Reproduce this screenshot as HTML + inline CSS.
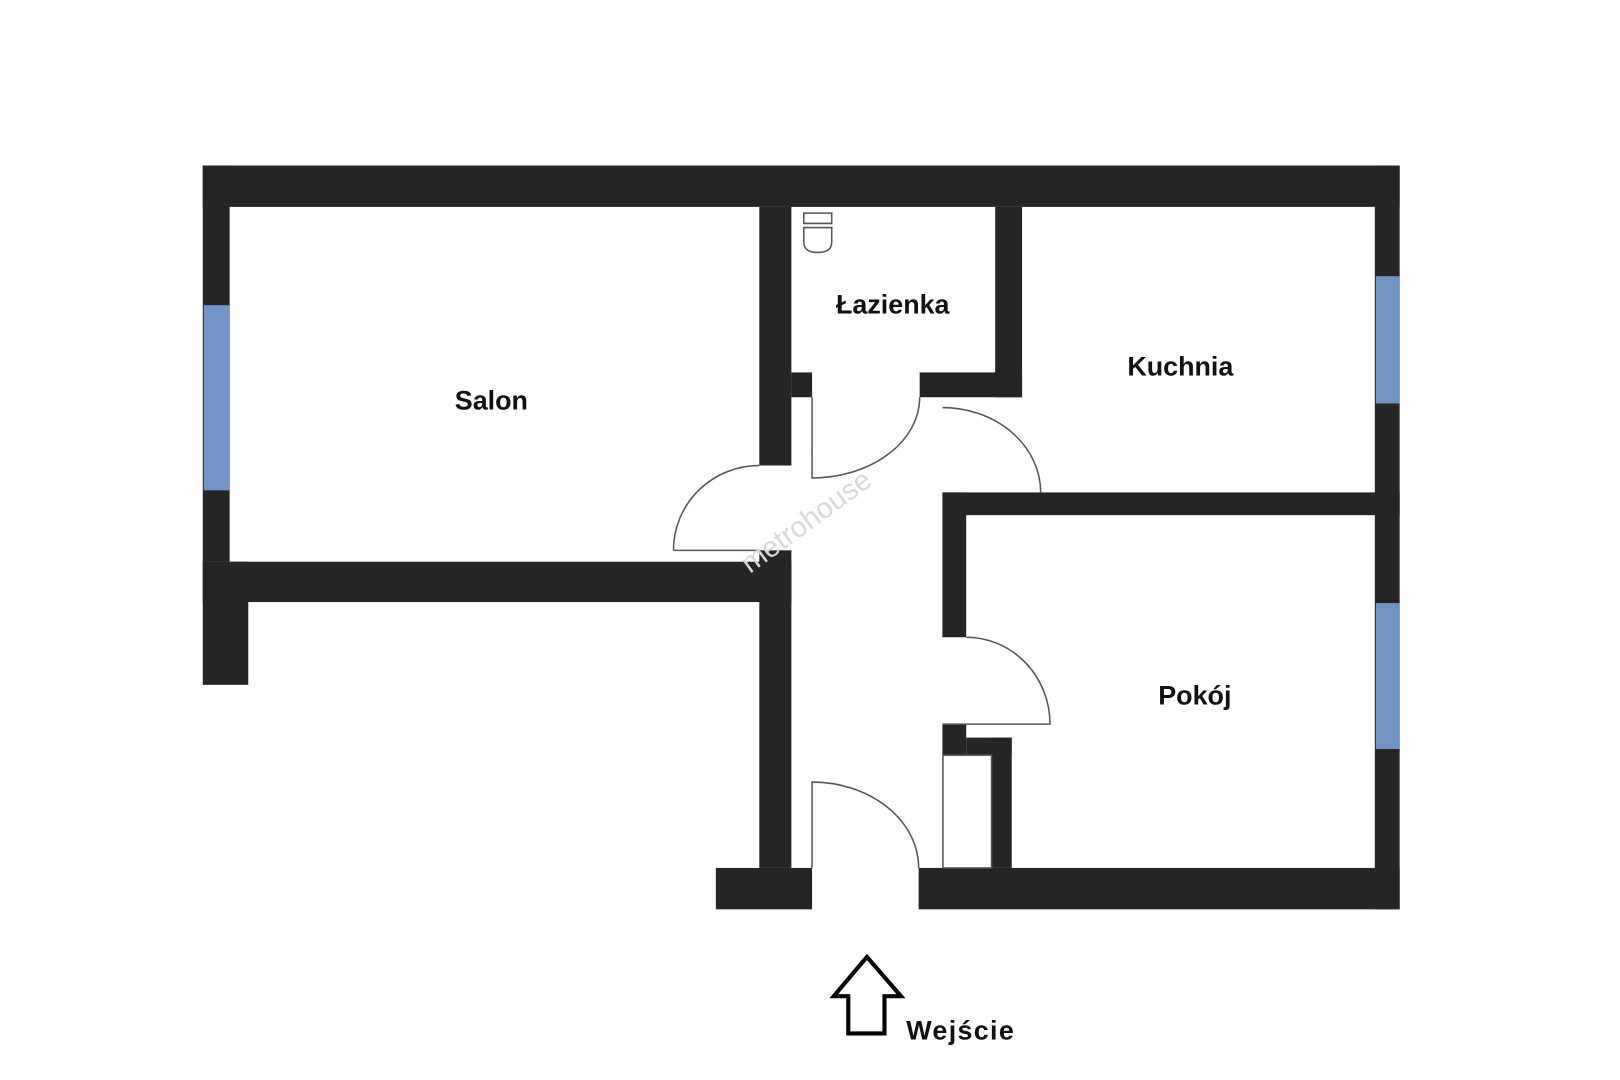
<!DOCTYPE html>
<html><head><meta charset="utf-8"><style>
html,body{margin:0;padding:0;background:#fff;}
svg{display:block;}
text{font-family:"Liberation Sans",sans-serif;font-weight:bold;fill:#111;}
</style></head><body>
<svg width="1620" height="1080" viewBox="0 0 1566 1044" xmlns="http://www.w3.org/2000/svg">
<rect width="1566" height="1044" fill="#fff"/>
<g fill="#252525">
<rect x="196" y="160" width="1157" height="40"/>
<rect x="196" y="160" width="26" height="383"/>
<rect x="196" y="543" width="44" height="119"/>
<rect x="196" y="543" width="569" height="39"/>
<rect x="734" y="200" width="31" height="250"/>
<rect x="734" y="532" width="31" height="307"/>
<rect x="765" y="360" width="20" height="24"/>
<rect x="962" y="200" width="26" height="184"/>
<rect x="889" y="360" width="99" height="24"/>
<rect x="1329" y="160" width="24" height="719"/>
<rect x="913" y="476" width="440" height="22"/>
<rect x="911" y="476" width="23" height="140"/>
<rect x="911" y="700" width="23" height="30"/>
<rect x="934" y="713" width="44" height="17"/>
<rect x="958" y="713" width="20" height="126"/>
<rect x="692" y="839" width="93" height="40"/>
<rect x="888" y="839" width="465" height="40"/>
</g>
<g fill="#7094c4">
<rect x="197" y="295" width="25" height="179"/>
<rect x="1330" y="267" width="23" height="123"/>
<rect x="1330" y="583" width="23" height="141"/>
</g>
<g fill="none" stroke="#555" stroke-width="1.5">
<path d="M785 384 L785 462 A104 78 0 0 0 889 384"/>
<path d="M651 532 L734 532 M651 532 A83 82 0 0 1 734 450"/>
<path d="M911 394 A95 82 0 0 1 1006 476"/>
<path d="M934 616 A81 84 0 0 1 1015 700 L911 700"/>
<path d="M785 839 L785 756 A103 83 0 0 1 888 839"/>
<rect x="911.5" y="730" width="47" height="109"/>
<path d="M777 206 h27 v10 h-27 z M777 220 h27 v14 q0 10 -13.5 10 q-13.5 0 -13.5 -10 z"/>
</g>
<path d="M838 925 L871 963 L855 963 L855 999 L820 999 L820 963 L806 963 Z" fill="none" stroke="#000" stroke-width="4" stroke-linejoin="miter"/>
<text x="475" y="396" font-size="26" text-anchor="middle">Salon</text>
<text x="863" y="303" font-size="26" text-anchor="middle">Łazienka</text>
<text x="1141" y="363" font-size="26" text-anchor="middle">Kuchnia</text>
<text x="1155" y="681" font-size="26" text-anchor="middle">Pokój</text>
<text x="876" y="1005" font-size="26" textLength="104">Wejście</text>
<text x="780" y="513" font-size="28" text-anchor="middle" transform="rotate(-36 780 505)" style="font-weight:normal;fill:#d8d8d8">metrohouse</text>
</svg>
</body></html>
